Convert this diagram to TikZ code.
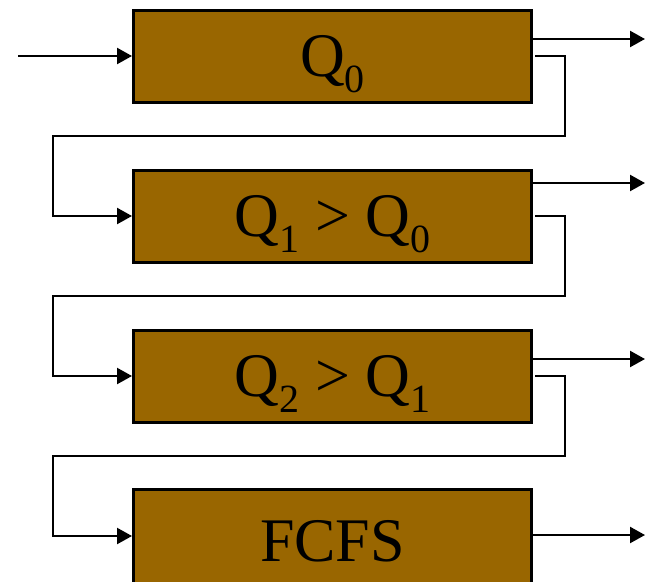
\documentclass[tikz,border=0pt]{standalone}
\usepackage{fontspec}
\setmainfont{Liberation Serif}
\usetikzlibrary{arrows.meta}
\definecolor{qbrown}{HTML}{996600}
\newcommand\qsub[1]{\raisebox{-16pt}{\fontsize{40}{40}\selectfont #1}}
\begin{document}
\begin{tikzpicture}[x=1pt,y=-1pt,
  qbox/.style={draw=black,line width=3pt,fill=qbrown,minimum width=398pt,
    minimum height=92pt,inner sep=0pt,text height=41pt,text depth=0pt,
    font=\fontsize{62}{62}\selectfont},
  link/.style={line width=2.3pt,-{Triangle[length=15pt,width=16pt]}}]
\useasboundingbox (0,0) rectangle (652,581);
\clip (0,0) rectangle (652,581);
\node[qbox] (b1) at (332.5,56) {Q\qsub{0}};
\node[qbox] (b2) at (332.5,216) {Q\qsub{1} > Q\qsub{0}};
\node[qbox] (b3) at (332.5,376) {Q\qsub{2} > Q\qsub{1}};
\node[qbox,minimum height=104pt] (b4) at (332.5,541) {FCFS};
\coordinate (in) at (18,56);
\coordinate (o1) at (645,39);
\coordinate (o2) at (645,183);
\coordinate (o3) at (645,359);
\coordinate (o4) at (645,535);
\draw[link] (in) -- (b1.west);
\draw[link] (b1.east |- o1) -- (o1);
\draw[link] (b2.east |- o2) -- (o2);
\draw[link] (b3.east |- o3) -- (o3);
\draw[link] (b4.east |- o4) -- (o4);
\draw[link] ([xshift=2pt]b1.east) -| (565,136) -| (53,216) -- (b2.west);
\draw[link] ([xshift=2pt]b2.east) -| (565,296) -| (53,376) -- (b3.west);
\draw[link] ([xshift=2pt]b3.east) -| (565,456) -| (53,536) -- (b4.west |- 0,536);
\end{tikzpicture}
\end{document}
